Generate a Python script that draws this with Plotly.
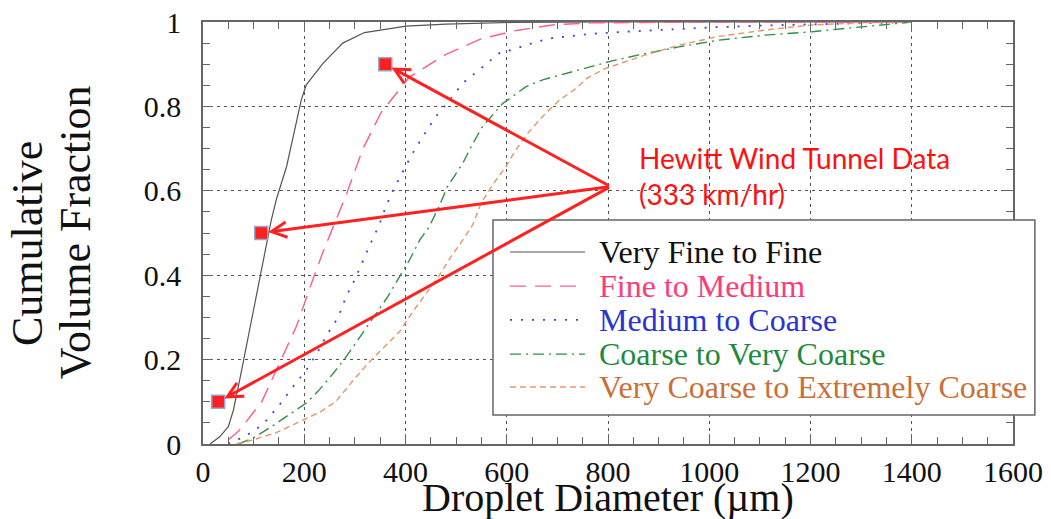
import plotly.graph_objects as go

# Cumulative volume fraction vs droplet diameter for each spray class
series_names = [
    "Very Fine to Fine",
    "Fine to Medium",
    "Medium to Coarse",
    "Coarse to Very Coarse",
    "Very Coarse to Extremely Coarse",
]

vf_f_x = [14, 33, 50, 60, 73, 83, 96, 109, 122, 135, 145, 165, 181, 194, 204,
          237, 276, 319, 401, 480, 611, 800, 1400]
vf_f_y = [0.0, 0.017, 0.041, 0.08, 0.155, 0.215, 0.294, 0.373, 0.452, 0.531, 0.58,
          0.657, 0.744, 0.815, 0.851, 0.902, 0.95, 0.975, 0.99, 0.995, 0.999, 1.0, 1.0]

f_m_x = [50, 70, 116, 155, 185, 211, 237, 259, 284, 316, 352, 408, 478, 549, 619,
         690, 766, 1000, 1400]
f_m_y = [0.01, 0.03, 0.10, 0.20, 0.28, 0.37, 0.455, 0.52, 0.594, 0.70, 0.786, 0.87,
         0.922, 0.96, 0.98, 0.993, 0.998, 1.0, 1.0]

m_c_x = [50, 86, 118, 150, 178, 204, 227, 247, 267, 283, 300, 315, 329, 347, 361,
         375, 395, 414, 436, 460, 487, 513, 549, 585, 618, 658, 690, 726, 768, 835,
         940, 1019, 1117, 1202, 1334, 1400]
m_c_y = [0.0, 0.02, 0.046, 0.091, 0.136, 0.175, 0.219, 0.263, 0.30, 0.35, 0.39,
         0.432, 0.47, 0.516, 0.562, 0.60, 0.645, 0.689, 0.732, 0.776, 0.815, 0.855,
         0.89, 0.926, 0.937, 0.953, 0.962, 0.966, 0.972, 0.977, 0.984, 0.988, 0.992,
         0.994, 0.997, 1.0]

c_vc_x = [70, 99, 135, 171, 204, 231, 257, 283, 313, 342, 365, 388, 408, 428, 447,
          467, 483, 513, 533, 552, 575, 592, 611, 638, 671, 704, 743, 802, 861, 940,
          1019, 1111, 1203, 1301, 1400]
c_vc_y = [0.0, 0.014, 0.041, 0.071, 0.097, 0.13, 0.167, 0.207, 0.258, 0.31, 0.349,
          0.396, 0.436, 0.483, 0.515, 0.565, 0.61, 0.665, 0.712, 0.752, 0.784, 0.807,
          0.823, 0.847, 0.863, 0.874, 0.888, 0.906, 0.922, 0.941, 0.957, 0.969, 0.977,
          0.988, 1.0]

vc_ec_x = [66, 99, 145, 185, 230, 262, 296, 329, 359, 388, 414, 441, 467, 490, 513,
           533, 549, 572, 598, 618, 644, 674, 704, 733, 759, 795, 874, 940, 1019, 1111,
           1203, 1300, 1400]
vc_ec_y = [0.0, 0.01, 0.027, 0.05, 0.075, 0.10, 0.15, 0.195, 0.23, 0.266, 0.313,
           0.357, 0.40, 0.444, 0.483, 0.52, 0.57, 0.614, 0.657, 0.697, 0.74, 0.78,
           0.815, 0.839, 0.867, 0.89, 0.922, 0.945, 0.966, 0.981, 0.993, 0.998, 1.0]

# Hewitt wind tunnel measurements (333 km/hr)
hewitt_x = [30, 115, 360]
hewitt_y = [0.10, 0.50, 0.90]

curves_x = [vf_f_x, f_m_x, m_c_x, c_vc_x, vc_ec_x]
curves_y = [vf_f_y, f_m_y, m_c_y, c_vc_y, vc_ec_y]

line_colors = ["#555555", "#ff5c8d", "#3a46d8", "#2f8f45", "#e8956a"]
text_colors = ["#111111", "#ff3a7a", "#2a34d0", "#1f8a3c", "#c8703a"]
dashes = ["solid", "16px,9px", "2px,9px", "11px,5px,2px,5px", "6px,4px"]
widths = [1.2, 1.4, 1.8, 1.4, 1.4]

SERIF = "Liberation Serif, Times New Roman, serif"

fig = go.Figure()

for xs, ys, col, dsh, w, nm in zip(curves_x, curves_y, line_colors, dashes, widths, series_names):
    fig.add_trace(go.Scatter(
        x=xs, y=ys, mode="lines", name=nm, showlegend=False,
        line=dict(color=col, dash=dsh, width=w),
    ))

fig.add_trace(go.Scatter(
    x=hewitt_x, y=hewitt_y, mode="markers", name="Hewitt Wind Tunnel Data",
    showlegend=False,
    marker=dict(symbol="square", size=13, color="#ff1f1f",
                line=dict(color="#8fa8cc", width=1.5)),
))

# Callout text and arrows pointing at each measurement
callout_x, callout_y = 805, 0.61
for hx, hy in zip(hewitt_x, hewitt_y):
    fig.add_annotation(
        x=hx, y=hy, xref="x", yref="y",
        ax=callout_x, ay=callout_y, axref="x", ayref="y",
        text="", showarrow=True, arrowhead=5, arrowsize=1.0, arrowwidth=3,
        arrowcolor="#ff2020", standoff=7,
    )

fig.add_annotation(
    x=857, y=0.722, xref="x", yref="y", xanchor="left", yanchor="top",
    text="Hewitt Wind Tunnel Data<br>(333 km/hr)", showarrow=False, align="left",
    font=dict(family="Lato, Carlito, sans-serif", size=28, color="#ff1010"),
)

# Legend box drawn in paper coordinates
fig.add_shape(type="rect", xref="paper", yref="paper",
              x0=0.358, x1=1.027, y0=0.069, y1=0.531,
              line=dict(color="#666666", width=1.5), fillcolor="white", layer="above")

row_y = [0.455, 0.374, 0.294, 0.213, 0.135]
for ry, nm, col, tcol, dsh, w in zip(row_y, series_names, line_colors, text_colors, dashes, widths):
    fig.add_shape(type="line", xref="paper", yref="paper",
                  x0=0.379, x1=0.4716, y0=ry, y1=ry, layer="above",
                  line=dict(color=col, dash=dsh, width=w))
    fig.add_annotation(x=0.4864, y=ry, xref="paper", yref="paper",
                       xanchor="left", yanchor="middle", showarrow=False,
                       text=nm, font=dict(family=SERIF, size=32, color=tcol))

# Axis titles
fig.add_annotation(x=0.5, y=-0.1265, xref="paper", yref="paper",
                   xanchor="center", yanchor="middle", showarrow=False,
                   text="Droplet Diameter (µm)",
                   font=dict(family=SERIF, size=40, color="#111111"))
for tx, ty, line in zip([-0.216, -0.158], [0.474, 0.502], ["Cumulative", "Volume Fraction"]):
    fig.add_annotation(x=tx, y=ty, xref="paper", yref="paper",
                       xanchor="center", yanchor="middle", showarrow=False,
                       textangle=-90, text=line,
                       font=dict(family=SERIF, size=44, color="#111111"))

axis_common = dict(
    showline=True, linecolor="#666666", linewidth=1.5, mirror="allticks",
    ticks="inside", ticklen=10, tickcolor="#666666", tickwidth=1.3,
    showgrid=True, gridcolor="#555555", gridwidth=1.3, griddash="3px,4px",
    zeroline=False,
    tickfont=dict(family=SERIF, size=30, color="#111111"),
)

fig.update_xaxes(
    range=[0, 1600], tickmode="linear", tick0=0, dtick=200,
    minor=dict(dtick=50, ticks="inside", ticklen=7, tickcolor="#666666", showgrid=False),
    ticklabelstandoff=0,
    **axis_common,
)
fig.update_yaxes(
    range=[0, 1], tickmode="linear", tick0=0, dtick=0.2,
    minor=dict(dtick=0.05, ticks="inside", ticklen=7, tickcolor="#666666", showgrid=False),
    ticklabelstandoff=14,
    **axis_common,
)

fig.update_layout(
    width=1051, height=519,
    margin=dict(l=203, r=38, t=22, b=75, autoexpand=False),
    paper_bgcolor="white", plot_bgcolor="white",
    showlegend=False,
)

fig.write_html("out.html")
